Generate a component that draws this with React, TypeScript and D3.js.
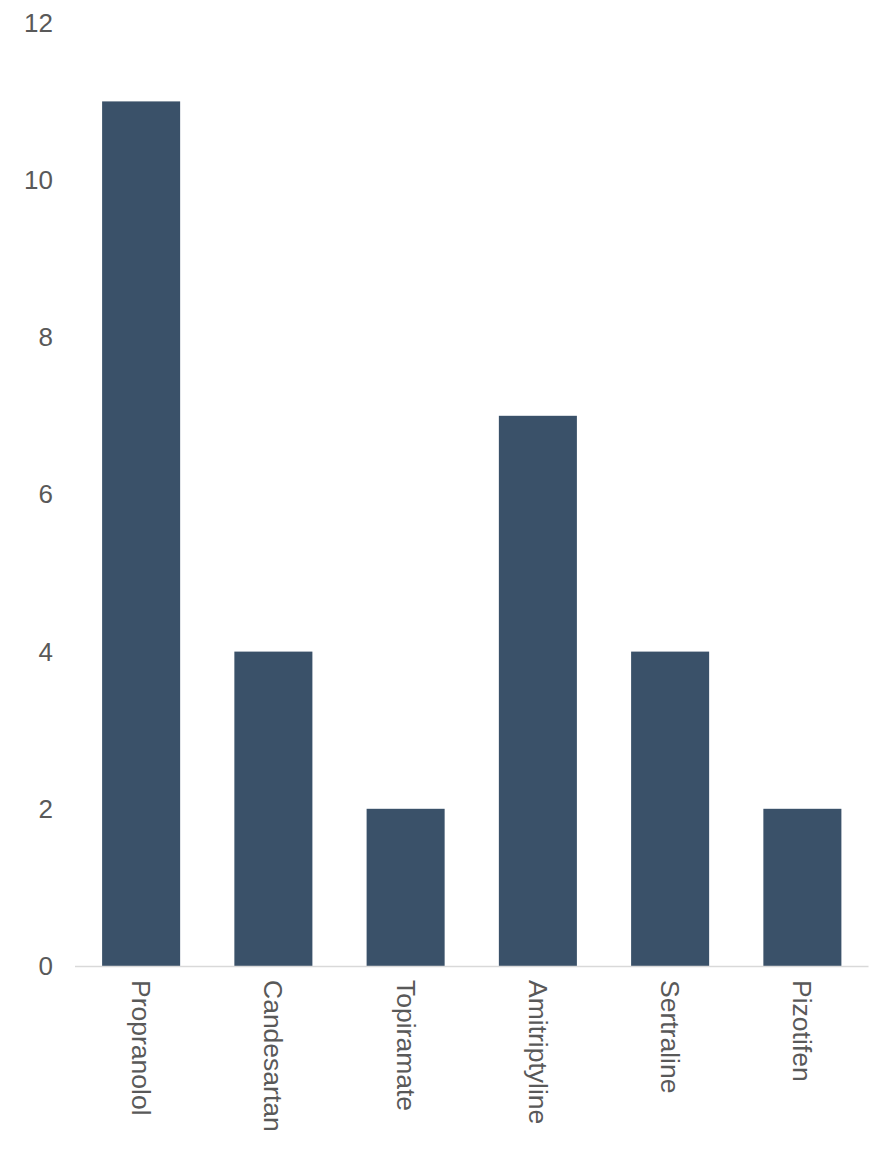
import React from "react";
import * as d3 from "d3";

const categories = ["Propranolol", "Candesartan", "Topiramate", "Amitriptyline", "Sertraline", "Pizotifen"];
const values = [11, 4, 2, 7, 4, 2];
const yTicks = [0, 2, 4, 6, 8, 10, 12];

const W = 891;
const H = 1149;
const FONT = "'Liberation Sans', Arial, Helvetica, sans-serif";
const TEXT = "#595959";

export default function App() {
  const x = d3.scaleBand<string>().domain(categories).range([75, 868.5]).paddingInner(0.41).paddingOuter(0.205);
  const y = d3.scaleLinear().domain([0, 12]).range([966, 22.8]);
  return (
    <div style={{ position: "absolute", left: 0, top: 0 }}>
      <svg width={W} height={H} style={{ display: "block", background: "#fff" }}>
        {categories.map((c, i) => (
          <rect key={c} x={x(c)} y={y(values[i])} width={x.bandwidth()} height={y(0) - y(values[i])} fill="#3a5169" />
        ))}
        <line x1={75} x2={868.5} y1={y(0) + 0.5} y2={y(0) + 0.5} stroke="#d9d9d9" strokeWidth={1.5} />
        {yTicks.map((t) => (
          <text key={t} x={53} y={y(t)} textAnchor="end" dominantBaseline="central" fontFamily={FONT} fontSize={26} fill={TEXT}>
            {t}
          </text>
        ))}
        {categories.map((c) => {
          const cx = (x(c) as number) + x.bandwidth() / 2;
          const ty = 980;
          return (
            <text key={c} transform={`translate(${cx},${ty}) rotate(90)`} textAnchor="start" dominantBaseline="central" fontFamily={FONT} fontSize={26.5} fill={TEXT}>
              {c}
            </text>
          );
        })}
      </svg>
    </div>
  );
}
